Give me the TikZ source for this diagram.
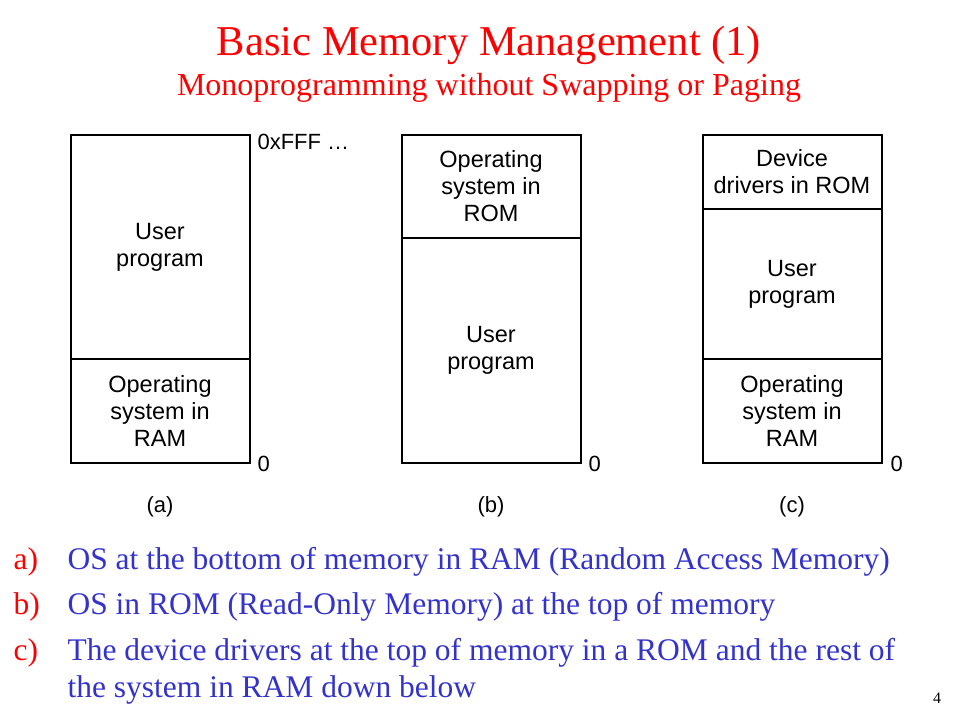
\documentclass[tikz,border=0pt]{standalone}
\usepackage{fontspec}
\setmainfont{Liberation Serif}
\newfontfamily\diagfont{Liberation Sans}
\usetikzlibrary{positioning}
\definecolor{titlered}{RGB}{255,0,0}
\definecolor{listblue}{RGB}{51,51,204}
\tikzset{
	part/.style={draw,line width=2pt,minimum width=179pt,inner sep=0pt,outer sep=0pt,align=center,
		font=\fontsize{23.5}{27}\diagfont},
	addr/.style={font=\fontsize{22}{26}\diagfont,anchor=west},
	caption/.style={font=\fontsize{22}{26}\diagfont},
	item/.style={font=\fontsize{31.5}{36}\selectfont,anchor=base west},
}
\begin{document}
\begin{tikzpicture}[x=1pt,y=-1pt]
\useasboundingbox (0,0) rectangle (960,720);
% title
\node[text=titlered,font=\fontsize{42.5}{48}\selectfont] (title) at (489,45) {Basic Memory Management (1)};
\node[text=titlered,font=\fontsize{32}{36}\selectfont] (subtitle) at (489,88) {Monoprogramming without Swapping or Paging};
% (a)
\node[part,minimum height=224pt,anchor=north] (aU) at (160,135) {User\\program};
\node[part,minimum height=104pt,below=0pt of aU] (aOS) {Operating\\system in\\RAM};
% (b)
\node[part,minimum height=103pt,anchor=north] (bOS) at (491,135) {Operating\\system in\\ROM};
\node[part,minimum height=225pt,below=0pt of bOS] (bU) {User\\program};
% (c)
\node[part,minimum height=74pt,anchor=north] (cD) at (792,135) {Device\\drivers in ROM};
\node[part,minimum height=150pt,below=0pt of cD] (cU) {User\\program};
\node[part,minimum height=104pt,below=0pt of cU] (cOS) {Operating\\system in\\RAM};
% addresses
\node[addr] (topA) at (254,142) {0xFFF \dots};
\node[addr] (zeroA) at (254,464) {0};
\node[addr] (zeroB) at (585,464) {0};
\node[addr] (zeroC) at (887,464) {0};
% captions
\node[caption] (capA) at (160,507) {(a)};
\node[caption] (capB) at (491,507) {(b)};
\node[caption] (capC) at (792,507) {(c)};
% list
\node[item,text=titlered] (la) at (10,569) {a)};
\node[item,text=listblue] (ta) at (64,569) {OS at the bottom of memory in RAM (Random Access Memory)};
\node[item,text=titlered] (lb) at (10,614) {b)};
\node[item,text=listblue] (tb) at (64,614) {OS in ROM (Read-Only Memory) at the top of memory};
\node[item,text=titlered] (lc) at (10,660) {c)};
\node[item,text=listblue] (tc) at (64,660) {The device drivers at the top of memory in a ROM and the rest of};
\node[item,text=listblue] (td) at (64,697) {the system in RAM down below};
\node[font=\fontsize{16}{18}\selectfont] (page) at (937,698) {4};
\end{tikzpicture}
\end{document}
